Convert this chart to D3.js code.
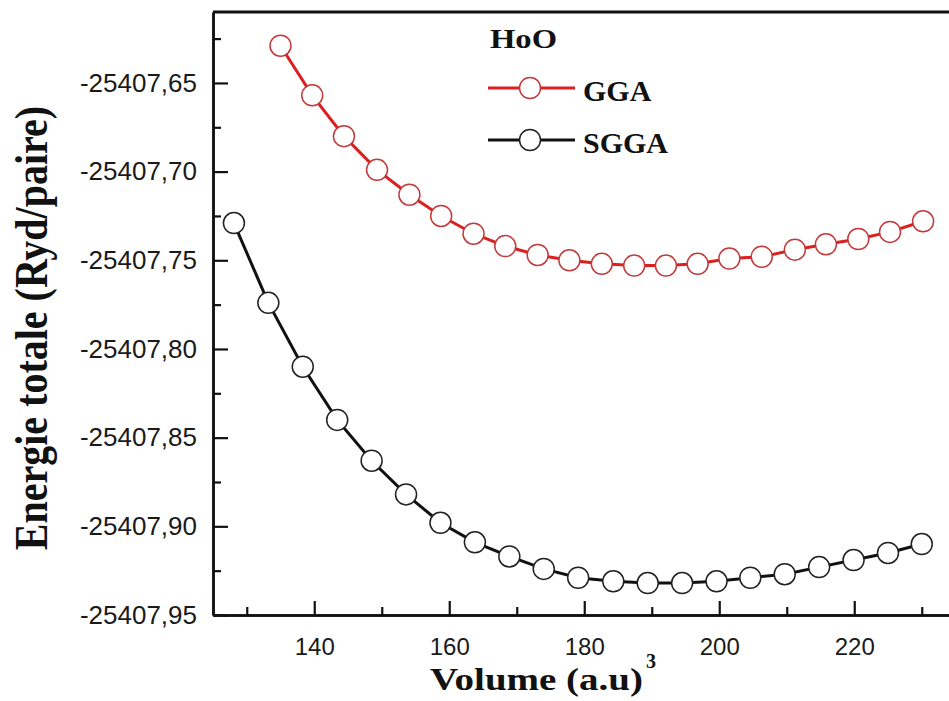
<!DOCTYPE html>
<html>
<head>
<meta charset="utf-8">
<script src="https://cdn.jsdelivr.net/npm/d3@7"></script>
<style>
  body { margin: 0; background: #fff; }
  svg { display: block; }
</style>
</head>
<body>
<div id="chart"></div>
<script>
// volume (a.u)^3 and total energy (Ryd/paire)
var ggaVolume = [135.0, 139.7, 144.4, 149.3, 154.1, 158.8, 163.6, 168.3, 173.1, 177.8, 182.6,
                 187.4, 192.1, 196.8, 201.5, 206.3, 211.2, 215.8, 220.6, 225.3, 230.2];
var ggaEnergy = [-25407.629, -25407.657, -25407.680, -25407.699, -25407.713, -25407.725,
                 -25407.735, -25407.742, -25407.747, -25407.750, -25407.752, -25407.753,
                 -25407.753, -25407.752, -25407.749, -25407.748, -25407.744, -25407.741,
                 -25407.738, -25407.734, -25407.728];
var sggaVolume = [128.1, 133.2, 138.3, 143.4, 148.5, 153.6, 158.7, 163.8, 168.9, 174.0, 179.1,
                  184.3, 189.4, 194.5, 199.6, 204.6, 209.7, 214.8, 219.9, 225.0, 230.0];
var sggaEnergy = [-25407.729, -25407.774, -25407.810, -25407.840, -25407.863, -25407.882,
                  -25407.898, -25407.909, -25407.917, -25407.924, -25407.929, -25407.931,
                  -25407.932, -25407.932, -25407.931, -25407.929, -25407.927, -25407.923,
                  -25407.919, -25407.915, -25407.910];
var xTicks = [140, 160, 180, 200, 220];
var xMinor = [130, 150, 170, 190, 210, 230];
var yTicks = [-25407.95, -25407.90, -25407.85, -25407.80, -25407.75, -25407.70, -25407.65];
var yMinor = [-25407.925, -25407.875, -25407.825, -25407.775, -25407.725, -25407.675, -25407.625];

var series = [
    { name: 'GGA', vol: ggaVolume, en: ggaEnergy, line: '#dc1f1f', mark: '#c23b3b' },
    { name: 'SGGA', vol: sggaVolume, en: sggaEnergy, line: '#111', mark: '#222' }
];

var W = 949, H = 701;
var plotLeft = 213, plotTop = 12, plotBottom = 615, plotRight = 955.5;

var x = d3.scaleLinear().domain([125, 235]).range([plotLeft, plotRight]);
var y = d3.scaleLinear().domain([-25407.95, -25407.61]).range([plotBottom, plotTop]);

var svg = d3.select('#chart').append('svg')
    .attr('width', W).attr('height', H);

svg.append('rect').attr('width', W).attr('height', H).attr('fill', '#fff');

// Origin style: plain hyphen and decimal comma
var fmt = function (d) { return d.toFixed(2).replace('.', ','); };

// lines + markers
var lineGen = d3.line()
    .x(function (d) { return x(d[0]); })
    .y(function (d) { return y(d[1]); });

series.forEach(function (s) {
    var pts = s.vol.map(function (v, i) { return [v, s.en[i]]; });
    svg.append('path')
        .datum(pts)
        .attr('d', lineGen)
        .attr('fill', 'none')
        .attr('stroke', s.line)
        .attr('stroke-width', 3);
    svg.selectAll('.pt-' + s.name)
        .data(pts)
        .enter()
        .append('circle')
        .attr('cx', function (d) { return x(d[0]); })
        .attr('cy', function (d) { return y(d[1]); })
        .attr('r', 10.5)
        .attr('fill', '#fff')
        .attr('stroke', s.mark)
        .attr('stroke-width', 1.5);
});

// axes
var xg = svg.append('g')
    .attr('transform', 'translate(0,' + plotBottom + ')')
    .call(d3.axisBottom(x).tickValues(xTicks).tickSizeInner(-14).tickSizeOuter(0).tickPadding(23).tickFormat(d3.format('d')));
svg.append('g')
    .attr('transform', 'translate(0,' + plotBottom + ')')
    .call(d3.axisBottom(x).tickValues(xMinor).tickSizeInner(-8).tickSizeOuter(0).tickFormat(''));

var yg = svg.append('g')
    .attr('transform', 'translate(' + plotLeft + ',0)')
    .call(d3.axisLeft(y).tickValues(yTicks).tickSizeInner(-15).tickSizeOuter(0).tickPadding(16).tickFormat(fmt));
svg.append('g')
    .attr('transform', 'translate(' + plotLeft + ',0)')
    .call(d3.axisLeft(y).tickValues(yMinor).tickSizeInner(-8).tickSizeOuter(0).tickFormat(''));

svg.selectAll('.domain').attr('stroke', '#111').attr('stroke-width', 2.5);
svg.selectAll('.tick line').attr('stroke', '#111').attr('stroke-width', 2.2);
svg.selectAll('.tick text')
    .attr('fill', '#1a1a1a')
    .style('font-family', '"Liberation Sans", Arial, sans-serif');
xg.selectAll('.tick text').style('font-size', '24px');
yg.selectAll('.tick text').style('font-size', '26px');

// top frame line
svg.append('line')
    .attr('x1', plotLeft).attr('x2', plotRight)
    .attr('y1', plotTop).attr('y2', plotTop)
    .attr('stroke', '#111').attr('stroke-width', 3);

// axis titles (the figure is a bit stretched sideways, so glyphs are widened too)
var serif = '"Liberation Serif", "Times New Roman", serif';
svg.append('text')
    .attr('x', 430).attr('y', 690)
    .attr('textLength', 213).attr('lengthAdjust', 'spacingAndGlyphs')
    .style('font-family', serif).style('font-weight', 'bold').style('font-size', '32px')
    .attr('fill', '#111')
    .text('Volume (a.u)');
svg.append('text')
    .attr('x', 646).attr('y', 668)
    .style('font-family', serif).style('font-weight', 'bold').style('font-size', '20px')
    .attr('fill', '#111')
    .text('3');

svg.append('text')
    .attr('transform', 'translate(47,328) scale(1.15,1) rotate(-90)')
    .attr('text-anchor', 'middle')
    .style('font-family', serif).style('font-weight', 'bold').style('font-size', '40px')
    .attr('fill', '#111')
    .text('Energie totale (Ryd/paire)');

// legend
svg.append('text')
    .attr('x', 490).attr('y', 48)
    .attr('textLength', 67).attr('lengthAdjust', 'spacingAndGlyphs')
    .style('font-family', serif).style('font-weight', 'bold').style('font-size', '28px')
    .attr('fill', '#111')
    .text('HoO');

var legend = svg.selectAll('.legend')
    .data(series)
    .enter()
    .append('g')
    .attr('class', 'legend')
    .attr('transform', function (d, i) { return 'translate(488,' + (88 + i * 52) + ')'; });

legend.append('line')
    .attr('x1', 0).attr('x2', 87)
    .attr('stroke', function (d) { return d.line; })
    .attr('stroke-width', 3);
legend.append('circle')
    .attr('cx', 42).attr('r', 10.5)
    .attr('fill', '#fff')
    .attr('stroke', function (d) { return d.mark; })
    .attr('stroke-width', 1.5);
legend.append('text')
    .attr('x', 95).attr('y', 13)
    .style('font-family', serif).style('font-weight', 'bold').style('font-size', '30px')
    .attr('fill', '#111')
    .text(function (d) { return d.name; });
</script>
</body>
</html>
